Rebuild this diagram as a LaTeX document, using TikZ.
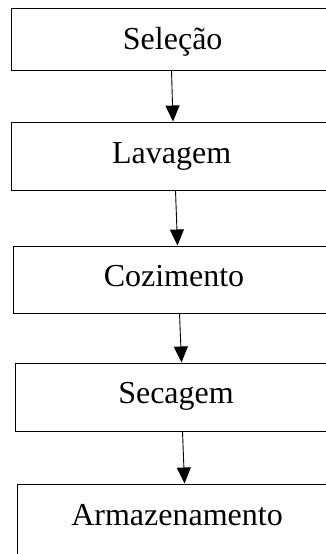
\documentclass[tikz,border=0pt]{standalone}
\usepackage{fontspec}
\setmainfont{Liberation Serif}
\usetikzlibrary{arrows.meta,calc}

\begin{document}
\begin{tikzpicture}[x=1pt,y=-1pt,
  stepbox/.style={draw=black,line width=1pt,rectangle,inner sep=0pt,
    minimum width=#1},
  steptext/.style={anchor=base,inner sep=0pt,
    font=\fontsize{32}{38}\selectfont},
  flow/.style={line width=0.9pt,-{Triangle[length=16pt,width=14pt]}}
]
\useasboundingbox (0,0) rectangle (326,554);
\clip (0,0) rectangle (326,554);

% process boxes (right side runs past the page edge)
\node[stepbox=323pt,minimum height=62pt] (b1) at (172.5,39) {};
\node[stepbox=321pt,minimum height=68pt] (b2) at (171.5,156) {};
\node[stepbox=322pt,minimum height=67pt] (b3) at (174,279.5) {};
\node[stepbox=322pt,minimum height=68pt] (b4) at (176,397) {};
\node[stepbox=320pt,minimum height=100pt] (b5) at (177,534) {};

% labels
\node[steptext] (t1) at (172.7,49) {Seleção};
\node[steptext] (t2) at (171.7,163) {Lavagem};
\node[steptext] (t3) at (174,286.7) {Cozimento};
\node[steptext] (t4) at (176,403) {Secagem};
\node[steptext] (t5) at (177,525) {Armazenamento};

% connectors between consecutive steps
\draw[flow] ($(b1.south west)+(161pt,0)$) -- ($(b2.north west)+(162.5pt,0)$);
\draw[flow] ($(b2.south west)+(165pt,0)$) -- ($(b3.north west)+(165pt,0)$);
\draw[flow] ($(b3.south west)+(167pt,0)$) -- ($(b4.north west)+(167pt,0)$);
\draw[flow] ($(b4.south west)+(168pt,0)$) -- ($(b5.north west)+(168pt,0)$);
\end{tikzpicture}
\end{document}
